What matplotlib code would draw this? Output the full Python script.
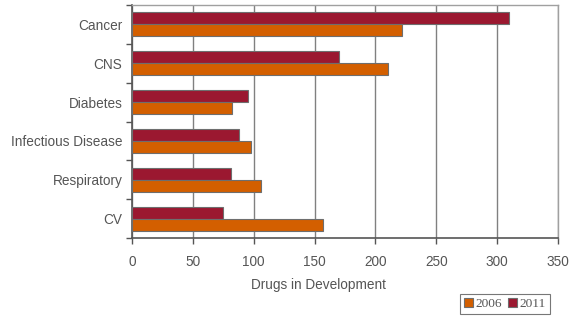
import numpy as np
import matplotlib.pyplot as plt
from matplotlib.font_manager import FontProperties

categories = ["Cancer", "CNS", "Diabetes", "Infectious Disease", "Respiratory", "CV"]
vals_2006 = [222, 210, 82, 98, 106, 157]
vals_2011 = [310, 170, 95, 88, 81, 75]
xticks = [0, 50, 100, 150, 200, 250, 300, 350]

c2006 = "#d35f00"
c2011 = "#9b1830"
txt = "#555555"

plt.rcParams['font.family'] = ['Liberation Sans', 'DejaVu Sans']

fig = plt.figure(figsize=(5.82, 3.26), dpi=100)
W, H = 582, 326
ax = fig.add_axes([132 / W, 1 - 238 / H, 426 / W, 233 / H])

n = len(categories)
y = np.arange(n)[::-1].astype(float)
h = 0.31
ax.barh(y + h / 2, vals_2011, height=h, color=c2011, edgecolor="#6e6e6e", linewidth=0.8, label="2011", zorder=3)
ax.barh(y - h / 2, vals_2006, height=h, color=c2006, edgecolor="#6e6e6e", linewidth=0.8, label="2006", zorder=3)

ax.set_xlim(0, 350)
ax.set_ylim(-0.5, n - 0.5)
ax.set_xticks(xticks)
ax.set_xticklabels([str(t) for t in xticks])
ax.set_yticks(y)
ax.set_yticklabels(categories)
ax.set_yticks(np.arange(n + 1) - 0.5, minor=True)
ax.tick_params(axis="y", which="major", length=0, pad=7, labelsize=9.8, labelcolor=txt)
ax.tick_params(axis="y", which="minor", length=4, color="#555555", width=1)
ax.tick_params(axis="x", length=4, color="#555555", width=1, pad=8, labelsize=9.8, labelcolor=txt)
ax.xaxis.grid(True, color="#808080", linewidth=1)
ax.set_axisbelow(True)

for s in ["left", "bottom"]:
    ax.spines[s].set_color("#555555")
    ax.spines[s].set_linewidth(1.2)
for s in ["top", "right"]:
    ax.spines[s].set_color("#a0a0a0")
    ax.spines[s].set_linewidth(1)

ax.set_xlabel("Drugs in Development", fontsize=9.8, color=txt)
ax.xaxis.set_label_coords((318 - 132) / 426, -(278 - 238) / 233)

handles, labels = ax.get_legend_handles_labels()
leg = fig.legend(handles[::-1], labels[::-1], loc="center", bbox_to_anchor=(505 / W, 1 - 304 / H),
                 ncol=2, prop=FontProperties(family="Liberation Serif", size=9.6),
                 frameon=True, fancybox=False, edgecolor="#555555", handlelength=0.7, handleheight=0.7,
                 handletextpad=0.2, columnspacing=0.4, borderpad=0.3, borderaxespad=0)
leg.get_frame().set_linewidth(0.8)
for t in leg.get_texts():
    t.set_color(txt)

fig.savefig("out.png", dpi=100)
